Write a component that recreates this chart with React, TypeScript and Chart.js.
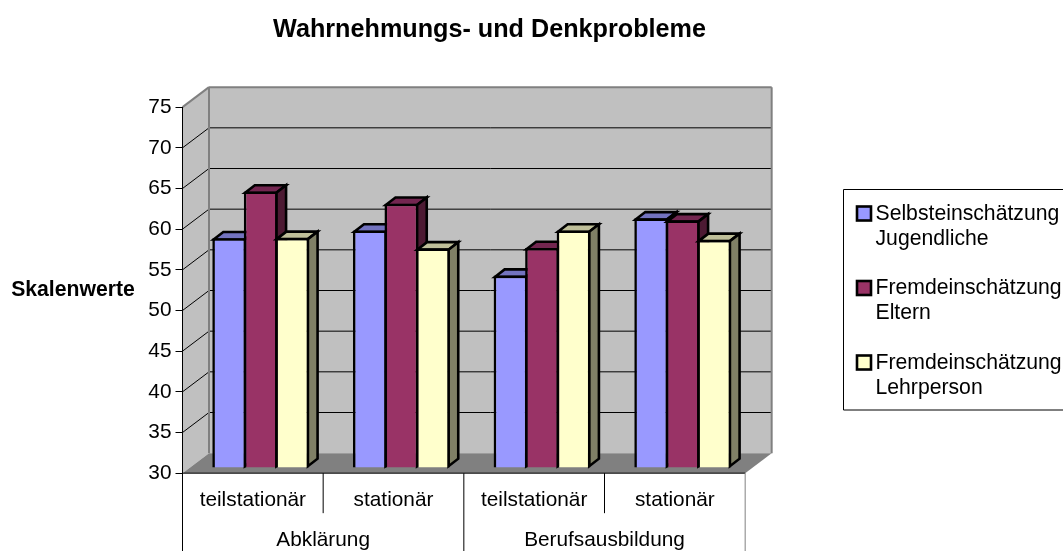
import React, { useEffect, useRef } from "react";
import { Chart, registerables } from "chart.js";

Chart.register(...registerables);

const TITLE = "Wahrnehmungs- und Denkprobleme";
const Y_TITLE = "Skalenwerte";
const CATEGORIES = ["teilstationär", "stationär", "teilstationär", "stationär"];
const GROUPS = ["Abklärung", "Berufsausbildung"];
const SELBST = [58.25, 59.2, 53.65, 60.7];
const ELTERN = [64.0, 62.5, 57.05, 60.45];
const LEHRER = [58.3, 57.0, 59.2, 58.05];
const SERIES_LINES = [
  ["Selbsteinschätzung", "Jugendliche"],
  ["Fremdeinschätzung", "Eltern"],
  ["Fremdeinschätzung", "Lehrperson"],
];
const FRONT = ["#9999ff", "#993366", "#ffffcc"];
const TOP = ["#7373bf", "#732650", "#bfbf99"];
const SIDE = ["#4d4d80", "#4d1a33", "#808066"];

const FONT = '"Liberation Sans", Arial, sans-serif';
const WALL_DX = 26.5;
const WALL_DY = 20;
const BAR_DX = 7.9;
const BAR_DY = 5.2;
const DEPTH_X = 9.7;
const DEPTH_Y = 7.5;
const EDGE = 2.6;

function poly(ctx: CanvasRenderingContext2D, pts: number[][], fill?: string, stroke?: string, lw = 1) {
  ctx.beginPath();
  pts.forEach((p, i) => (i ? ctx.lineTo(p[0], p[1]) : ctx.moveTo(p[0], p[1])));
  ctx.closePath();
  if (fill) {
    ctx.fillStyle = fill;
    ctx.fill();
  }
  if (stroke) {
    ctx.strokeStyle = stroke;
    ctx.lineWidth = lw;
    ctx.lineJoin = "miter";
    ctx.stroke();
  }
}

function line(ctx: CanvasRenderingContext2D, x1: number, y1: number, x2: number, y2: number, color: string, lw = 1) {
  ctx.beginPath();
  ctx.moveTo(x1, y1);
  ctx.lineTo(x2, y2);
  ctx.strokeStyle = color;
  ctx.lineWidth = lw;
  ctx.stroke();
}

const scenePlugin = {
  id: "scene3d",
  beforeDraw(chart: any) {
    const { ctx, chartArea: a, scales } = chart;
    const y = scales.y;
    const wl = a.left + WALL_DX;
    const wr = a.right + WALL_DX;
    const wt = a.top - WALL_DY;
    const wb = a.bottom - WALL_DY;
    ctx.save();
    poly(ctx, [[wl, wt], [wr, wt], [wr, wb], [wl, wb]], "#c0c0c0");
    poly(ctx, [[a.left, a.top], [wl, wt], [wl, wb], [a.left, a.bottom]], "#c0c0c0");
    poly(ctx, [[a.left, a.bottom], [wl, wb], [wr, wb], [a.right, a.bottom]], "#808080");
    y.ticks.forEach((t: any) => {
      const py = y.getPixelForValue(t.value);
      if (t.value > y.min && t.value < y.max) {
        line(ctx, wl, py - WALL_DY, wr, py - WALL_DY, "#000000");
        line(ctx, a.left, py, wl, py - WALL_DY, "#000000");
      }
    });
    line(ctx, wl, wt, wr, wt, "#808080", 2);
    line(ctx, wl, wt, wl, wb, "#808080", 2);
    line(ctx, wr, wt, wr, wb, "#808080", 2);
    line(ctx, a.left, a.top, wl, wt, "#808080", 2);
    line(ctx, a.left, a.bottom, a.right, a.bottom, "#000000");

    // multi-level category dividers
    const band = (a.right - a.left) / CATEGORIES.length;
    for (let i = 0; i <= CATEGORIES.length; i++) {
      const x = a.left + band * i;
      const long = i % 2 === 0;
      line(ctx, x, a.bottom, x, long ? chart.height : a.bottom + 40, i === 4 ? "#808080" : "#000000");
    }
    ctx.restore();
  },
  beforeDatasetsDraw(chart: any) {
    const { ctx } = chart;
    ctx.save();
    ctx.translate(BAR_DX, -BAR_DY);
    chart.data.datasets.forEach((_: any, di: number) => {
      const meta = chart.getDatasetMeta(di);
      meta.data.forEach((bar: any) => {
        const { x, y, base, width } = bar.getProps(["x", "y", "base", "width"], true);
        const l = x - width / 2 + EDGE / 2;
        const r = x + width / 2 - EDGE / 2;
        const t = y + EDGE / 2;
        const b = base - EDGE / 2;
        poly(ctx, [[l, t], [l + DEPTH_X, t - DEPTH_Y], [r + DEPTH_X, t - DEPTH_Y], [r, t]], TOP[di], "#000000", EDGE);
        poly(ctx, [[r, t], [r + DEPTH_X, t - DEPTH_Y], [r + DEPTH_X, b - DEPTH_Y], [r, b]], SIDE[di], "#000000", EDGE);
      });
      meta.controller.draw();
    });
    ctx.restore();
  },
  beforeDatasetDraw() {
    return false;
  },
  afterDraw(chart: any) {
    const { ctx, chartArea: a } = chart;
    ctx.save();
    ctx.fillStyle = "#000000";
    ctx.textBaseline = "middle";
    ctx.textAlign = "center";

    ctx.font = `bold 25.2px ${FONT}`;
    ctx.fillText(TITLE, 489.5, 30.5);
    ctx.font = `bold 21.2px ${FONT}`;
    ctx.fillText(Y_TITLE, 73, 290);

    // group labels under the categories
    ctx.font = `20.8px ${FONT}`;
    const band = (a.right - a.left) / CATEGORIES.length;
    GROUPS.forEach((g, i) => {
      ctx.fillText(g, a.left + band * (2 * i + 1), 540);
    });

    // legend
    const lx = 843.5;
    const ly = 189.5;
    ctx.font = `21.2px ${FONT}`;
    ctx.strokeStyle = "#000000";
    ctx.lineWidth = 1;
    ctx.beginPath();
    ctx.moveTo(1063, ly);
    ctx.lineTo(lx, ly);
    ctx.lineTo(lx, 410);
    ctx.lineTo(1063, 410);
    ctx.stroke();
    ctx.textAlign = "left";
    chart.data.datasets.forEach((ds: any, i: number) => {
      const sy = 206.5 + i * 74.5;
      ctx.fillStyle = ds.backgroundColor;
      ctx.fillRect(857, sy, 14, 14);
      ctx.strokeStyle = "#000000";
      ctx.lineWidth = EDGE;
      ctx.strokeRect(857, sy, 14, 14);
      ctx.fillStyle = "#000000";
      SERIES_LINES[i].forEach((t, k) => {
        ctx.fillText(t, 875.5, 214 + i * 74.5 + k * 25);
      });
    });
    ctx.restore();
  },
};

export default function App() {
  const ref = useRef<HTMLCanvasElement | null>(null);
  useEffect(() => {
    const mk = (i: number, data: number[]) => ({
      label: SERIES_LINES[i].join(" "),
      data,
      base: 30,
      backgroundColor: FRONT[i],
      borderColor: "#000000",
      borderWidth: EDGE,
      inflateAmount: 0,
      barPercentage: 1.075,
      categoryPercentage: 0.672,
    });
    const chart = new Chart(ref.current as HTMLCanvasElement, {
      type: "bar",
      data: {
        labels: CATEGORIES,
        datasets: [mk(0, SELBST), mk(1, ELTERN), mk(2, LEHRER)],
      },
      plugins: [scenePlugin],
      options: {
        responsive: false,
        animation: false,
        layout: { padding: { left: 0, top: 107.17, right: 317.83, bottom: 0 } },
        plugins: { legend: { display: false }, title: { display: false }, tooltip: { enabled: false } },
        scales: {
          x: {
            grid: { display: false },
            border: { display: false },
            ticks: { color: "#000000", font: { family: FONT, size: 20.8 }, padding: 7, maxRotation: 0, autoSkip: false },
            afterFit: (s: any) => {
              s.height = 77.83;
            },
          },
          y: {
            min: 30,
            max: 75,
            grid: { drawOnChartArea: false, color: "#000000", tickLength: 7 },
            border: { color: "#000000" },
            ticks: { stepSize: 5, color: "#000000", font: { family: FONT, size: 20.8 }, padding: 4 },
            afterFit: (s: any) => {
              s.width = 182.5;
            },
          },
        },
      },
    } as any);
    return () => chart.destroy();
  }, []);
  return (
    <div style={{ position: "fixed", left: 0, top: 0, width: 1063, height: 551, background: "#fff" }}>
      <canvas ref={ref} width={1063} height={551} style={{ display: "block" }} />
    </div>
  );
}
